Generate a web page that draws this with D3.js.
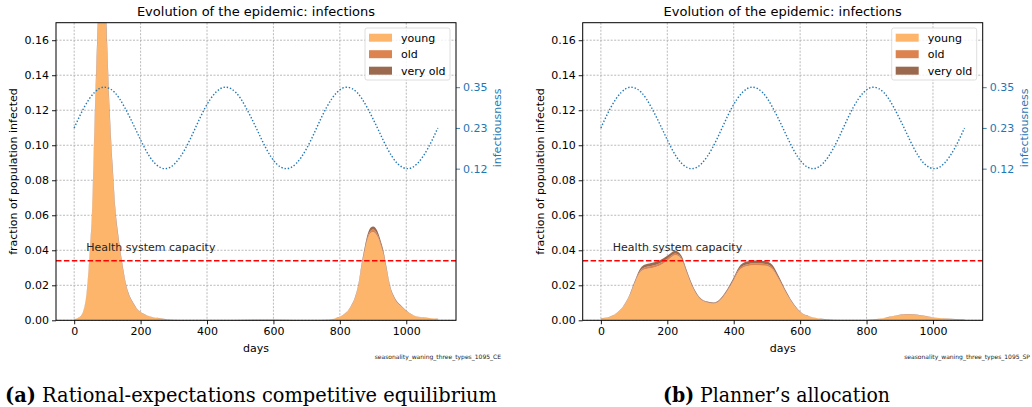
<!DOCTYPE html>
<html>
<head>
<meta charset="utf-8">
<script src="https://cdn.jsdelivr.net/npm/d3@7"></script>
<style>
body { margin: 0; background: #fff; }
text { font-family: "DejaVu Sans", sans-serif; }
</style>
</head>
<body>
<script>
// competitive equilibrium (left panel)
var ceDays = [0, 10, 20, 25, 30, 35, 40, 47, 54, 62, 71, 77, 83, 90, 97, 107, 116, 124, 132, 139, 148, 157, 166, 175, 190, 205, 220, 250, 280, 320, 400, 480, 540, 600, 680, 740, 770, 800, 820, 832, 845, 855, 867, 875, 885, 893, 900, 907, 915, 922, 931, 940, 951, 965, 988, 1010, 1023, 1050, 1075, 1095];
var ceYoung = [0.0007, 0.0011, 0.0023, 0.0037, 0.0066, 0.0113, 0.0199, 0.0380, 0.0610, 0.1125, 0.1620, 0.1868, 0.1970, 0.1883, 0.1617, 0.1140, 0.0835, 0.0606, 0.0473, 0.0378, 0.0273, 0.0188, 0.0136, 0.0103, 0.0061, 0.0039, 0.0026, 0.0013, 0.0006, 0.0002, 0.0001, 0.0002, 0.0005, 0.0004, 0.0001, 0.0002, 0.0005, 0.0021, 0.0045, 0.0073, 0.0122, 0.0188, 0.0320, 0.0395, 0.0470, 0.0498, 0.0504, 0.0496, 0.0470, 0.0432, 0.0376, 0.0291, 0.0188, 0.0122, 0.0073, 0.0039, 0.0026, 0.0016, 0.0011, 0.0009];
var ceOld = [0.00005, 0.00005, 0.0001, 0.00015, 0.0002, 0.00035, 0.0005, 0.0009, 0.0014, 0.0025, 0.0036, 0.0042, 0.0045, 0.0043, 0.0038, 0.0027, 0.0020, 0.0015, 0.0012, 0.0010, 0.0008, 0.0005, 0.0004, 0.0003, 0.0002, 0.00015, 0.0001, 0.00005, 0, 0, 0, 0, 0, 0, 0, 0, 0, 0.00005, 0.00015, 0.00025, 0.0004, 0.0006, 0.0009, 0.0011, 0.0013, 0.0014, 0.0014, 0.0014, 0.0013, 0.0012, 0.0010, 0.0008, 0.0005, 0.0003, 0.0002, 0.0001, 0.0001, 0.00005, 0.00005, 0.00005];
var ceVeryOld = [0.00005, 0.00005, 0.0001, 0.00015, 0.0002, 0.00035, 0.0006, 0.0011, 0.0016, 0.0030, 0.0044, 0.0050, 0.0055, 0.0054, 0.0045, 0.0033, 0.0025, 0.0019, 0.0015, 0.0012, 0.0009, 0.0007, 0.0005, 0.0004, 0.0002, 0.00015, 0.0001, 0.00005, 0, 0, 0, 0, 0, 0, 0, 0, 0, 0.00005, 0.00015, 0.00025, 0.0004, 0.0006, 0.0011, 0.0014, 0.0017, 0.0018, 0.0018, 0.0018, 0.0017, 0.0016, 0.0014, 0.0011, 0.0007, 0.0005, 0.0003, 0.0002, 0.0001, 0.00005, 0.00005, 0.00005];

// planner (right panel)
var spDays = [0, 26, 46, 66, 86, 101, 116, 131, 151, 176, 201, 213, 224, 235, 245, 256, 276, 296, 321, 340, 356, 376, 396, 416, 436, 466, 496, 516, 536, 556, 576, 600, 630, 660, 700, 750, 800, 850, 880, 910, 930, 960, 1000, 1040, 1095];
var spYoung = [0.0010, 0.0019, 0.0038, 0.0074, 0.0137, 0.0207, 0.0268, 0.0290, 0.0298, 0.0312, 0.0342, 0.0362, 0.0372, 0.0364, 0.0338, 0.0281, 0.0187, 0.0126, 0.0100, 0.0095, 0.0108, 0.0152, 0.0213, 0.0282, 0.0307, 0.0315, 0.0311, 0.0292, 0.0231, 0.0160, 0.0099, 0.0046, 0.0020, 0.0009, 0.0003, 0.0001, 0.0002, 0.0011, 0.0023, 0.0032, 0.0033, 0.0028, 0.0017, 0.0009, 0.0005];
var spOld = [0.00005, 0.00005, 0.0001, 0.0002, 0.0003, 0.0005, 0.0008, 0.0011, 0.0012, 0.0012, 0.0011, 0.0010, 0.0010, 0.0009, 0.0009, 0.0008, 0.0005, 0.0004, 0.0003, 0.0003, 0.0003, 0.0005, 0.0007, 0.0009, 0.0011, 0.0011, 0.0011, 0.0010, 0.0008, 0.0005, 0.0003, 0.0002, 0.0001, 0.00005, 0, 0, 0, 0.00005, 0.0001, 0.0001, 0.0001, 0.0001, 0.00005, 0.00005, 0.00005];
var spVeryOld = [0.00005, 0.00005, 0.0001, 0.0002, 0.0005, 0.0008, 0.0012, 0.0016, 0.0018, 0.0018, 0.0017, 0.0016, 0.0015, 0.0015, 0.0013, 0.0011, 0.0008, 0.0005, 0.0004, 0.0004, 0.0005, 0.0007, 0.0010, 0.0014, 0.0016, 0.0016, 0.0016, 0.0015, 0.0011, 0.0008, 0.0005, 0.0002, 0.0001, 0.00005, 0, 0, 0, 0.00005, 0.0001, 0.0002, 0.0002, 0.0001, 0.00005, 0.00005, 0.00005];

// seasonal infectiousness, one value per month
var infDays = [0, 30, 61, 91, 122, 152, 183, 213, 243, 274, 304, 335, 365, 395, 426, 456, 487, 517, 548, 578, 608, 639, 669, 700, 730, 760, 791, 821, 852, 882, 913, 943, 973, 1004, 1034, 1065, 1095];
var infValues = [0.230, 0.288, 0.330, 0.345, 0.330, 0.288, 0.230, 0.172, 0.130, 0.115, 0.130, 0.172,
                 0.230, 0.288, 0.330, 0.345, 0.330, 0.288, 0.230, 0.172, 0.130, 0.115, 0.130, 0.172,
                 0.230, 0.288, 0.330, 0.345, 0.330, 0.288, 0.230, 0.172, 0.130, 0.115, 0.130, 0.172, 0.230];

var groups = ["young", "old", "very old"];
var xTicks = [0, 200, 400, 600, 800, 1000];
var yTicks = [0, 0.02, 0.04, 0.06, 0.08, 0.10, 0.12, 0.14, 0.16];
var rightTicks = [0.115, 0.23, 0.345];
var rightTickLabels = ["0.12", "0.23", "0.35"];
var capacity = 0.034;

var colors = ["#fdb56b", "#dc8350", "#9b6a4e"];
var blue = "#1f77b4";

var svg = d3.select('body').append('svg')
    .attr('width', 1032)
    .attr('height', 407);

function panel(p) {
    var x0 = p.left, x1 = p.left + 400, y0 = 22.7, y1 = 320.3;
    var g = svg.append('g');

    var x = d3.scaleLinear().domain([-54.75, 1149.75]).range([x0, x1]);
    var y = d3.scaleLinear().domain([0, 0.17]).range([y1, y0]);
    var y2 = d3.scaleLinear().domain([-0.313, 0.527]).range([y1, y0]);

    var clipId = 'clip' + p.id;
    svg.append('clipPath').attr('id', clipId)
        .append('rect').attr('x', x0).attr('y', y0).attr('width', x1 - x0).attr('height', y1 - y0);

    // grid
    g.selectAll('.gx').data(xTicks).enter().append('line')
        .attr('x1', d => x(d)).attr('x2', d => x(d)).attr('y1', y0).attr('y2', y1)
        .attr('stroke', '#a8a8a8').attr('stroke-width', 0.8).attr('stroke-dasharray', '2,1.5');
    g.selectAll('.gy').data(yTicks).enter().append('line')
        .attr('x1', x0).attr('x2', x1).attr('y1', d => y(d)).attr('y2', d => y(d))
        .attr('stroke', '#a8a8a8').attr('stroke-width', 0.8).attr('stroke-dasharray', '2,1.5');

    // stacked areas
    var rows = p.days.map((d, i) => ({day: d, "young": p.young[i], "old": p.old[i], "very old": p.veryOld[i]}));
    var series = d3.stack().keys(groups)(rows);
    var area = d3.area()
        .x(d => x(d.data.day))
        .y0(d => y(d[0]))
        .y1(d => y(d[1]))
        .curve(d3.curveMonotoneX);
    var plot = g.append('g').attr('clip-path', 'url(#' + clipId + ')');
    plot.selectAll('.layer').data(series).enter().append('path')
        .attr('d', area)
        .attr('fill', (d, i) => colors[i]);

    // capacity line
    plot.append('line')
        .attr('x1', x0).attr('x2', x1)
        .attr('y1', y(capacity)).attr('y2', y(capacity))
        .attr('stroke', 'red').attr('stroke-width', 1.4).attr('stroke-dasharray', '5.5,2.4');
    g.append('text')
        .attr('x', x(36)).attr('y', y(0.0395))
        .attr('font-size', 11).attr('fill', '#262626')
        .text('Health system capacity');

    // infectiousness
    var line = d3.line()
        .x((d, i) => x(infDays[i]))
        .y(d => y2(d))
        .curve(d3.curveNatural);
    plot.append('path')
        .attr('d', line(infValues))
        .attr('fill', 'none')
        .attr('stroke', blue).attr('stroke-width', 1.4)
        .attr('stroke-dasharray', '1.4,1.9');

    // axes
    var xAxis = g.append('g').attr('transform', 'translate(0,' + y1 + ')')
        .call(d3.axisBottom(x).tickValues(xTicks).tickSize(4).tickPadding(3).tickFormat(d3.format('d')));
    var yAxis = g.append('g').attr('transform', 'translate(' + x0 + ',0)')
        .call(d3.axisLeft(y).tickValues(yTicks).tickSize(4).tickPadding(3).tickFormat(d3.format('.2f')));
    var rAxis = g.append('g').attr('transform', 'translate(' + x1 + ',0)')
        .call(d3.axisRight(y2).tickValues(rightTicks).tickSize(4).tickPadding(3).tickFormat((d, i) => rightTickLabels[i]));
    [xAxis, yAxis, rAxis].forEach(a => {
        a.select('.domain').remove();
        a.selectAll('text').attr('font-size', 11).attr('font-family', '"DejaVu Sans", sans-serif').attr('fill', '#000');
        a.selectAll('line').attr('stroke', '#000').attr('stroke-width', 0.9);
    });
    rAxis.selectAll('text').attr('fill', blue);
    rAxis.selectAll('line').attr('stroke', blue);

    // frame
    g.append('rect').attr('x', x0).attr('y', y0).attr('width', x1 - x0).attr('height', y1 - y0)
        .attr('fill', 'none').attr('stroke', '#000').attr('stroke-width', 1);

    // labels
    g.append('text').attr('x', (x0 + x1) / 2).attr('y', 16)
        .attr('text-anchor', 'middle').attr('font-size', 13)
        .text('Evolution of the epidemic: infections');
    g.append('text').attr('x', (x0 + x1) / 2).attr('y', 352)
        .attr('text-anchor', 'middle').attr('font-size', 11)
        .text('days');
    g.append('text')
        .attr('transform', 'translate(' + (x0 - 39) + ',' + ((y0 + y1) / 2) + ') rotate(-90)')
        .attr('text-anchor', 'middle').attr('font-size', 11)
        .text('fraction of population infected');
    g.append('text')
        .attr('transform', 'translate(' + (x1 + 45) + ',' + y2(0.23) + ') rotate(-90)')
        .attr('text-anchor', 'middle').attr('font-size', 11).attr('fill', blue)
        .text('infectiousness');
    g.append('text').attr('x', p.fileX).attr('y', 359)
        .attr('text-anchor', 'end').attr('font-size', 6).attr('fill', '#222')
        .text(p.file);

    // legend
    var lg = g.append('g').attr('transform', 'translate(' + (x1 - 91) + ',' + 28 + ')');
    lg.append('rect').attr('width', 85).attr('height', 52).attr('rx', 2)
        .attr('fill', 'white').attr('fill-opacity', 0.8)
        .attr('stroke', '#d6d6d6').attr('stroke-width', 0.8);
    groups.forEach((k, i) => {
        lg.append('rect').attr('x', 4).attr('y', 5.7 + i * 16.5).attr('width', 23).attr('height', 8)
            .attr('fill', colors[i]);
        lg.append('text').attr('x', 36).attr('y', 13.7 + i * 16.5).attr('font-size', 11).text(k);
    });

    // caption
    var cap = svg.append('text').attr('x', p.capX).attr('y', 402)
        .attr('text-anchor', 'start')
        .attr('font-size', 20)
        .attr('textLength', p.capW).attr('lengthAdjust', 'spacingAndGlyphs')
        .style('font-family', '"DejaVu Serif", serif');
    cap.append('tspan').attr('font-weight', 'bold').text(p.capBold);
    cap.append('tspan').text(' ' + p.capText);
}

panel({id: 'a', left: 56, days: ceDays, young: ceYoung, old: ceOld, veryOld: ceVeryOld,
    file: 'seasonality_waning_three_types_1095_CE', fileX: 501,
    capX: 5, capW: 492, capBold: '(a)', capText: 'Rational-expectations competitive equilibrium'});
panel({id: 'b', left: 582.7, days: spDays, young: spYoung, old: spOld, veryOld: spVeryOld,
    file: 'seasonality_waning_three_types_1095_SP', fileX: 1030,
    capX: 663, capW: 227, capBold: '(b)', capText: 'Planner\u2019s allocation'});
</script>
</body>
</html>
